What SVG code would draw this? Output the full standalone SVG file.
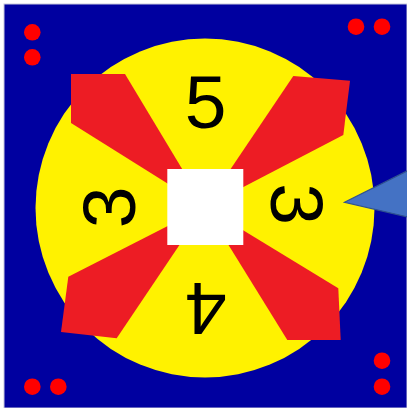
<svg xmlns="http://www.w3.org/2000/svg" width="407" height="408" viewBox="0 0 407 408">
<style>
.dot{fill:#FF0000}
.vane{fill:#ED1C24}
.num{font-family:"Liberation Sans",Arial,sans-serif;font-size:75px;fill:#000;text-anchor:middle}
</style>
<rect x="0" y="0" width="407" height="408" fill="#FFFFFF"/>
<rect id="board" x="4" y="4" width="403" height="404" fill="#0000A0" stroke="#C8C8DC" stroke-width="1"/>
<g id="dots">
<circle class="dot" cx="32.3" cy="32.3" r="8.3"/>
<circle class="dot" cx="32.3" cy="57.3" r="8.3"/>
<circle class="dot" cx="356" cy="26.7" r="8.3"/>
<circle class="dot" cx="382" cy="26.7" r="8.3"/>
<circle class="dot" cx="32.3" cy="386.7" r="8.3"/>
<circle class="dot" cx="58.3" cy="386.7" r="8.3"/>
<circle class="dot" cx="382" cy="360.7" r="8.3"/>
<circle class="dot" cx="382" cy="386.7" r="8.3"/>
</g>
<g id="wheel">
<circle cx="205" cy="208" r="169.5" fill="#FFF200"/>
</g>
<g id="vanes">
<polygon class="vane" points="71,74 125,74 205,207 71,123"/>
<polygon class="vane" points="293.3,76 350,80.7 343.3,135 205,207"/>
<polygon class="vane" points="68.3,276.7 205,207 116.7,338.3 61,332"/>
<polygon class="vane" points="205,207 338.3,288.3 340.7,340 287.3,340"/>
</g>
<g id="center">
<rect x="167.3" y="169" width="76" height="76" fill="#FFFFFF"/>
</g>
<g id="labels">
<g id="label-top" transform="translate(205.5,101.3)"><text class="num" x="0" y="26.8">5</text></g>
<g id="label-left" transform="translate(108,207.5) rotate(-90)"><text class="num" x="0" y="26.8">3</text></g>
<g id="label-right" transform="translate(297.7,204) rotate(90)"><text class="num" x="0" y="26.8">3</text></g>
<g id="label-bottom" transform="translate(205.8,309.7) rotate(180)"><text class="num" x="0" y="26.8">4</text></g>
</g>
<g id="pointer">
<polygon points="344.5,202.3 408,170.5 408,217" fill="#4472C4" stroke="#2F528F" stroke-width="1.2" stroke-linejoin="miter"/>
</g>
</svg>
